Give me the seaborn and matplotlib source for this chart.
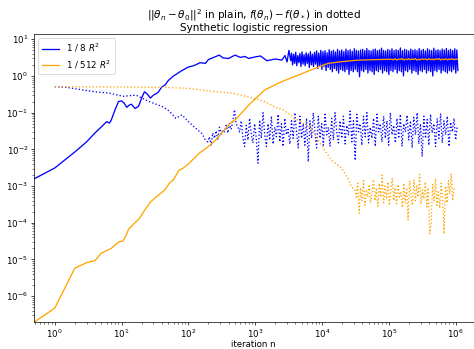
import numpy as np
import matplotlib
matplotlib.use("Agg")
import matplotlib.pyplot as plt
import seaborn as sns

# ---------------- data ----------------
# blue solid: ||theta_n - theta_0||^2, step 1/8 R^2 (smooth early part)
blue_dist_x = [0.5, 1, 2, 3, 4, 5, 6, 6.6, 7, 8, 9, 10, 11, 12, 13, 14, 16, 18, 20, 22,
               24, 27, 30, 35, 40, 45, 50, 60, 70, 80, 100, 120, 150, 180, 200, 250,
               290, 330, 400, 500, 600, 700, 800, 1000, 1200, 1500, 2000, 2500, 2800,
               3000, 3200, 3400]
blue_dist_y = [1.6e-3, 3.1e-3, 8.5e-3, 0.016, 0.028, 0.041, 0.057, 0.052, 0.062, 0.12,
               0.2, 0.21, 0.18, 0.14, 0.16, 0.17, 0.13, 0.15, 0.25, 0.37,
               0.33, 0.25, 0.30, 0.35, 0.5, 0.57, 0.75, 1.0, 1.2, 1.4, 1.75, 1.9, 2.3,
               2.2, 2.8, 3.3, 3.7, 3.1, 3.0, 3.7, 3.2, 3.4, 3.0, 3.3, 3.5, 2.6, 2.9,
               2.7, 3.6, 2.4, 5.0, 2.6]
# blue solid: noisy band, 3.5e3 .. 1.1e6
blue_dist_band = [
    4.2, 2.0, 3.9, 2.2, 4.4, 1.9, 3.6, 2.3, 4.1, 1.8,
    4.5, 2.1, 3.8, 1.9, 4.3, 2.2, 4.0, 1.7, 4.6, 2.0,
    3.9, 1.8, 4.4, 2.1, 4.8, 1.6, 4.2, 1.9, 5.0, 1.5,
    4.6, 1.8, 4.9, 1.4, 4.3, 1.7, 5.2, 1.5, 4.7, 1.3,
    5.0, 1.6, 4.5, 1.4, 5.3, 1.2, 4.8, 1.5, 5.1, 1.4,
    4.6, 1.3, 5.4, 1.5, 4.9, 1.1, 5.2, 1.4, 4.7, 1.3,
    5.5, 1.5, 5.0, 1.3, 4.8, 0.95, 5.1, 1.4, 5.3, 1.3,
    4.9, 1.5, 5.6, 1.2, 5.0, 1.4, 4.8, 1.3, 5.2, 1.1,
    5.4, 1.4, 4.9, 1.3, 5.1, 1.5, 5.7, 1.2, 5.0, 1.4,
    4.8, 1.3, 5.3, 1.1, 5.0, 1.4, 5.5, 1.3, 4.9, 1.5,
    5.2, 1.2, 5.0, 1.4, 5.8, 1.3, 4.9, 1.0, 5.3, 1.4,
    5.1, 1.3, 4.8, 1.5, 5.4, 1.2, 5.0, 1.4, 5.2, 1.3,
    4.9, 1.1, 5.6, 1.4, 5.0, 1.3, 5.3, 1.5, 4.8, 1.2,
    5.5, 1.4, 5.1, 1.3, 4.9, 1.0, 5.7, 1.4, 5.0, 1.3,
    5.2, 1.5, 4.9, 1.2, 5.4, 1.4, 5.1, 1.3, 5.6, 1.2,
    5.0, 1.4, 5.3, 1.3, 4.9, 1.5, 5.5, 1.2, 5.1, 1.4,
]
blue_band_range = (3.5e3, 1.08e6)

# blue dotted: f(theta_n) - f(theta_*), step 1/8 R^2
blue_obj_x = [1, 1.5, 2, 4, 6.6, 10.5, 16.5, 26, 41, 52, 65, 80, 100, 130, 160, 180]
blue_obj_y = [0.51, 0.49, 0.45, 0.37, 0.34, 0.28, 0.30, 0.20, 0.146, 0.11, 0.07, 0.087,
              0.057, 0.037, 0.027, 0.018]
blue_obj_noise = [
    0.016, 0.022, 0.013, 0.028, 0.02, 0.032, 0.018, 0.04, 0.026, 0.034,
    0.03, 0.045, 0.028, 0.05, 0.035, 0.06, 0.12, 0.05, 0.04, 0.03,
    0.06, 0.02, 0.012, 0.045, 0.018, 0.07, 0.025, 0.015, 0.05, 0.02,
    0.0042, 0.063, 0.02, 0.1, 0.025, 0.012, 0.05, 0.018, 0.08, 0.014,
    0.04, 0.022, 0.09, 0.016, 0.05, 0.012, 0.07, 0.025, 0.035, 0.014,
    0.06, 0.02, 0.1, 0.03, 0.011, 0.08, 0.02, 0.05, 0.013, 0.07,
    0.0046, 0.06, 0.02, 0.1, 0.03, 0.011, 0.08, 0.02, 0.05, 0.013,
    0.09, 0.025, 0.04, 0.012, 0.07, 0.018, 0.1, 0.03, 0.015, 0.06,
    0.02, 0.08, 0.014, 0.045, 0.025, 0.11, 0.016, 0.06, 0.005, 0.09,
    0.03, 0.05, 0.013, 0.08, 0.022, 0.1, 0.015, 0.04, 0.02, 0.07,
    0.012, 0.09, 0.03, 0.05, 0.016, 0.08, 0.02, 0.06, 0.013, 0.1,
    0.025, 0.045, 0.015, 0.07, 0.02, 0.09, 0.012, 0.05, 0.03, 0.085,
    0.018, 0.06, 0.011, 0.075, 0.025, 0.1, 0.014, 0.05, 0.0063, 0.08,
    0.02, 0.065, 0.013, 0.09, 0.028, 0.05, 0.012, 0.07, 0.02, 0.095,
    0.015, 0.06, 0.025, 0.08, 0.012, 0.055, 0.03, 0.07, 0.018, 0.045,
]
blue_obj_noise_range = (1.95e2, 1.06e6)

# orange solid: ||theta_n - theta_0||^2, step 1/512 R^2
orange_dist_x = [0.5, 1, 2, 3, 4, 5, 7, 9, 10.5, 11.7, 12.8, 14.5, 16.5, 18.5, 21, 23.3,
                 27.6, 35, 45, 52, 60, 73, 82, 100, 145, 200, 257, 350, 450, 500, 800,
                 1400, 2500, 4500, 7800, 12300, 19500, 35000, 70000, 100000]
orange_dist_y = [2.0e-7, 4.7e-7, 5.8e-6, 8.2e-6, 9.3e-6, 1.5e-5, 2.0e-5, 3.0e-5, 3.2e-5,
                 4.5e-5, 6.8e-5, 8.5e-5, 1.07e-4, 1.3e-4, 1.9e-4, 2.5e-4, 3.8e-4, 5.5e-4,
                 8.0e-4, 1.2e-3, 1.5e-3, 2.75e-3, 3.0e-3, 4.0e-3, 7.8e-3, 0.012, 0.018,
                 0.035, 0.057, 0.063, 0.16, 0.42, 0.7, 1.07, 1.6, 2.2, 2.45, 2.7, 2.8, 2.85]
orange_dist_tail = [2.85, 2.75, 2.95, 2.7, 2.9, 2.8, 3.0, 2.72, 2.88, 2.78,
                    2.96, 2.74, 2.9, 2.82, 2.98, 2.7, 2.86, 2.76, 2.94, 2.8,
                    2.9, 2.73, 2.97, 2.79, 2.87, 2.75, 2.93, 2.81, 2.99, 2.72,
                    2.88, 2.78, 2.95, 2.74, 2.91, 2.8, 2.96, 2.76, 2.89, 2.83]
orange_tail_range = (1.1e5, 1.07e6)

# orange dotted: f(theta_n) - f(theta_*), step 1/512 R^2
orange_obj_x = [1, 10, 40, 100, 260, 450, 800, 1400, 2200, 2500, 4400, 6900, 9800, 13800,
                19500, 24500, 27500]
orange_obj_y = [0.51, 0.50, 0.49, 0.46, 0.37, 0.34, 0.27, 0.20, 0.13, 0.125, 0.063, 0.038,
                0.013, 5.1e-3, 3.1e-3, 1.6e-3, 9.7e-4]
orange_obj_noise = [
    8e-4, 5e-4, 1.2e-3, 1.8e-4, 9e-4, 4e-4, 1.4e-3, 3e-4, 8e-4, 5e-4,
    1.1e-3, 3.5e-4, 7e-4, 1.5e-3, 4e-4, 9e-4, 2.8e-4, 1.2e-3, 5e-4, 2e-3,
    3.5e-4, 1.0e-3, 4.5e-4, 1.3e-3, 3e-4, 8e-4, 1.6e-3, 4e-4, 9e-4, 3e-4,
    1.1e-3, 5e-4, 7e-4, 2.6e-4, 1.2e-3, 3.5e-4, 9e-4, 1.2e-4, 1.4e-3, 6e-4,
    3e-4, 1.5e-3, 4e-4, 1.0e-3, 5e-4, 2.1e-3, 3.2e-4, 8e-4, 4.5e-4, 1.3e-3,
    2.7e-4, 9e-4, 5e-5, 9.7e-5, 1.1e-3, 4e-4, 1.6e-3, 3e-4, 7e-4, 2.5e-4,
    1.2e-3, 4.5e-4, 5e-5, 1.0e-3, 3.5e-4, 1.4e-3, 6e-4, 2.2e-3, 4e-4, 9e-4,
]
orange_obj_noise_range = (3.1e4, 9.5e5)

labels = ["1 / 8 $R^2$", "1 / 512 $R^2$"]
colors = ["blue", "orange"]

# ---------------- assemble series ----------------
def join(x_head, y_head, noise, rng):
    x_tail = np.geomspace(rng[0], rng[1], len(noise))
    return np.concatenate([x_head, x_tail]), np.concatenate([y_head, noise])

bd_x, bd_y = join(blue_dist_x, blue_dist_y, blue_dist_band, blue_band_range)
bo_x, bo_y = join(blue_obj_x, blue_obj_y, blue_obj_noise, blue_obj_noise_range)
od_x, od_y = join(orange_dist_x, orange_dist_y, orange_dist_tail, orange_tail_range)
oo_x, oo_y = join(orange_obj_x, orange_obj_y, orange_obj_noise, orange_obj_noise_range)

# ---------------- plot (matplotlib defaults, rendered at a small dpi) ----------------
plt.rcParams['font.family'] = ['DejaVu Sans']
DPI = 62.5
fig = plt.figure(figsize=(474 / DPI, 349 / DPI), dpi=DPI)
ax = fig.add_axes([34 / 474, 1 - 321.7 / 349, (473.5 - 34) / 474, (321.7 - 34) / 349])

sns.lineplot(x=bd_x, y=bd_y, ax=ax, color=colors[0], label=labels[0],
             estimator=None, sort=False)
sns.lineplot(x=bo_x, y=bo_y, ax=ax, color=colors[0], linestyle=":",
             estimator=None, sort=False)
sns.lineplot(x=od_x, y=od_y, ax=ax, color=colors[1], label=labels[1],
             estimator=None, sort=False)
sns.lineplot(x=oo_x, y=oo_y, ax=ax, color=colors[1], linestyle=":",
             estimator=None, sort=False)

ax.set_xscale("log")
ax.set_yscale("log")
ax.set_xlim(0.49, 1.85e6)
ax.set_ylim(2.02e-7, 13.9)
ax.set_xlabel("iteration n", va="center")
ax.xaxis.set_label_coords(0.5, (321.7 - 344.5) / 287.7)
ax.set_ylabel("")
ax.set_title(r"$||\theta_n - \theta_0||^2$ in plain, $f(\theta_n) - f(\theta_*)$ in dotted"
             "\nSynthetic logistic regression", pad=4, linespacing=1.0)
ax.legend(loc="upper left")

fig.savefig("out.png", dpi=DPI)
